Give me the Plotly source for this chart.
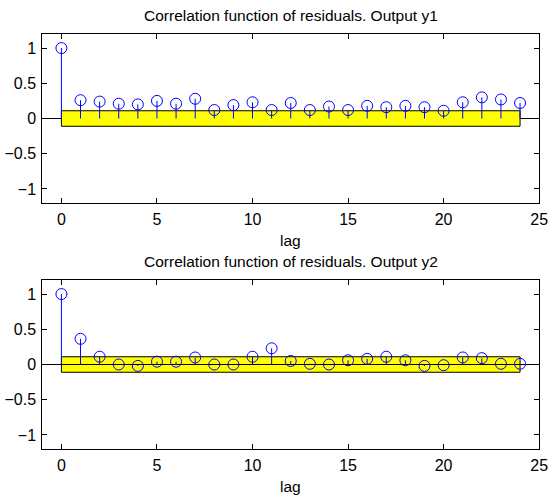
import plotly.graph_objects as go

lags = list(range(25))
y1_corr = [1.0, 0.26, 0.24, 0.21, 0.20, 0.25, 0.21, 0.28, 0.12, 0.19, 0.23, 0.12,
           0.22, 0.12, 0.17, 0.12, 0.18, 0.16, 0.18, 0.16, 0.11, 0.23, 0.30, 0.27, 0.22]
y2_corr = [1.0, 0.365, 0.11, 0.0, -0.02, 0.04, 0.04, 0.10, 0.0, 0.0, 0.11, 0.23,
           0.05, 0.01, 0.0, 0.06, 0.08, 0.11, 0.06, -0.02, -0.01, 0.10, 0.09, 0.01, 0.01]
conf = 0.11
titles = ["Correlation function of residuals. Output y1",
          "Correlation function of residuals. Output y2"]
x_label = "lag"
x_ticks = [0, 5, 10, 15, 20, 25]
y_ticks = [-1, -0.5, 0, 0.5, 1]
y_tick_text = ["\u22121", "\u22120.5", "0", "0.5", "1"]

W, H = 558, 498
FONT = "Liberation Sans, Arial, Helvetica, sans-serif"

fig = go.Figure()

# panel pixel boxes (left, right, top, bottom), title center y, xlabel center y
panels = [(43, 548, 34, 203, 15, 240), (43, 548, 280, 449, 261, 486)]
series = [y1_corr, y2_corr]
baseline_over_band = [False, True]

for i, (data, (pl, pr, pt, pb, ty, ly)) in enumerate(zip(series, panels)):
    xa = "x" if i == 0 else "x2"
    ya = "y" if i == 0 else "y2"
    base = dict(x=[-1, 25], y=[0, 0], mode="lines",
                line=dict(color="black", width=1), hoverinfo="skip",
                showlegend=False, xaxis=xa, yaxis=ya)
    if not baseline_over_band[i]:
        fig.add_trace(go.Scatter(**base))
    # confidence band
    bx = [lags[0], lags[-1], lags[-1], lags[0], lags[0]]
    by = [-conf, -conf, conf, conf, -conf]
    fig.add_trace(go.Scatter(x=bx, y=by, mode="lines", fill="toself",
                             fillcolor="rgb(255,255,0)",
                             line=dict(color="black", width=1),
                             hoverinfo="skip", showlegend=False,
                             xaxis=xa, yaxis=ya))
    if baseline_over_band[i]:
        fig.add_trace(go.Scatter(**base))
    # stems
    sx, sy = [], []
    for lx, v in zip(lags, data):
        sx += [lx, lx, None]
        sy += [0, v, None]
    fig.add_trace(go.Scatter(x=sx, y=sy, mode="lines",
                             line=dict(color="rgb(0,0,255)", width=1),
                             hoverinfo="skip", showlegend=False,
                             xaxis=xa, yaxis=ya))
    fig.add_trace(go.Scatter(x=lags, y=data, mode="markers",
                             marker=dict(symbol="circle-open", size=11,
                                         color="rgb(0,0,255)",
                                         line=dict(width=1, color="rgb(0,0,255)")),
                             showlegend=False, xaxis=xa, yaxis=ya))

    axis_common = dict(showline=True, linecolor="black", linewidth=1, mirror="ticks",
                       ticks="inside", ticklen=5, tickcolor="black", showgrid=False,
                       zeroline=False, tickfont=dict(family=FONT, size=16, color="black"))
    xdom = [pl / W, pr / W]
    ydom = [1 - pb / H, 1 - pt / H]
    xkey = "xaxis" if i == 0 else "xaxis2"
    ykey = "yaxis" if i == 0 else "yaxis2"
    fig.update_layout(**{
        xkey: dict(domain=xdom, range=[-1, 25], tickvals=x_ticks,
                   anchor=ya, ticklabelstandoff=2, **axis_common),
        ykey: dict(domain=ydom, range=[-1.2, 1.2], tickvals=y_ticks,
                   ticktext=y_tick_text, anchor=xa, ticklabelstandoff=2,
                   **axis_common),
    })
    fig.add_annotation(text=titles[i], xref="paper", yref="paper",
                       x=(pl + pr) / 2 / W, y=1 - ty / H,
                       xanchor="center", yanchor="middle", showarrow=False,
                       font=dict(family=FONT, size=15.5, color="black"))
    fig.add_annotation(text=x_label, xref="paper", yref="paper",
                       x=(pl + pr) / 2 / W, y=1 - ly / H,
                       xanchor="center", yanchor="middle", showarrow=False,
                       font=dict(family=FONT, size=15.5, color="black"))

fig.update_layout(width=W, height=H, margin=dict(l=0, r=0, t=0, b=0),
                  plot_bgcolor="white", paper_bgcolor="white")

fig.write_html("out.html")
